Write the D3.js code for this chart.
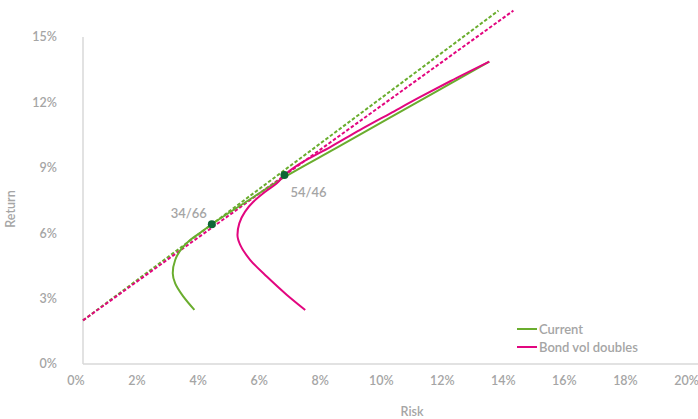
<!DOCTYPE html>
<html>
<head>
<meta charset="utf-8">
<script src="https://cdn.jsdelivr.net/npm/d3@7"></script>
<style>
  html, body { margin: 0; padding: 0; background: #fff; }
  svg { display: block; font-family: Lato, "Open Sans", sans-serif; }
</style>
</head>
<body>
<svg id="chart" width="698" height="419"></svg>
<script>
// ---- data (risk %, return %) ----
const currentRisk   = [3.65, 3.29, 3.02, 2.94, 3.02, 3.24, 3.51, 3.84, 4.22, 5.41, 6.62, 8.26, 10.07, 11.54, 13.31];
const currentReturn = [2.48, 3.09, 3.70, 4.16, 4.77, 5.31, 5.69, 6.02, 6.41, 7.50, 8.59, 9.88, 11.31, 12.47, 13.87];
const bondRisk      = [7.28, 6.68, 6.02, 5.48, 5.15, 5.06, 5.12, 5.31, 5.58, 5.97, 6.35, 6.60, 7.11, 8.10, 9.08, 10.07, 11.05, 12.03, 13.31];
const bondReturn    = [2.48, 3.17, 4.01, 4.77, 5.46, 5.92, 6.45, 6.99, 7.44, 7.90, 8.29, 8.67, 9.19, 9.95, 10.74, 11.50, 12.25, 12.97, 13.87];
const cmlCurrentRisk   = [0, 13.61];
const cmlCurrentReturn = [2.0, 16.21];
const cmlBondRisk      = [0, 14.10];
const cmlBondReturn    = [2.0, 16.21];
const pointLabels = ["34/66", "54/46"];
const pointRisk   = [4.22, 6.60];
const pointReturn = [6.41, 8.67];
const xTicks = [0, 2, 4, 6, 8, 10, 12, 14, 16, 18, 20];
const yTicks = [0, 3, 6, 9, 12, 15];
const seriesNames = ["Current", "Bond vol doubles"];

// ---- styles ----
const GREEN = "#6aad2e", MAGENTA = "#e2067f", DOT = "#0e6636";
const TEXT = "#a5a5a5", AXIS = "#d9d9d9";

const svg = d3.select("#chart");
const x = d3.scaleLinear().domain([0, 20]).range([83, 693.5]);
const y = d3.scaleLinear().domain([0, 15]).range([364, 37]);

// axes lines
svg.append("line").attr("x1", x(0)).attr("x2", 698).attr("y1", y(0)).attr("y2", y(0))
  .attr("stroke", AXIS).attr("stroke-width", 1.5);
svg.append("line").attr("x1", x(0)).attr("x2", x(0)).attr("y1", y(15)).attr("y2", y(0))
  .attr("stroke", AXIS).attr("stroke-width", 1.5);

// tick labels
svg.append("g").selectAll("text").data(xTicks).join("text")
  .attr("x", d => x(d) - 7).attr("y", 385)
  .attr("text-anchor", "middle").attr("fill", TEXT)
  .attr("font-size", 12.5).attr("font-weight", 600)
  .text(d => d + "%");
svg.append("g").selectAll("text").data(yTicks).join("text")
  .attr("x", 57).attr("y", d => y(d) + 4.4)
  .attr("text-anchor", "end").attr("fill", TEXT)
  .attr("font-size", 12.5).attr("font-weight", 600)
  .text(d => d + "%");

// axis titles
svg.append("text").attr("x", 412).attr("y", 416).attr("text-anchor", "middle")
  .attr("fill", TEXT).attr("font-size", 12.5).attr("font-weight", 600).text("Risk");
svg.append("text").attr("transform", "translate(15,209) rotate(-90)").attr("text-anchor", "middle")
  .attr("fill", TEXT).attr("font-size", 12.5).attr("font-weight", 600).text("Return");

const line = d3.line().x(d => x(d[0])).y(d => y(d[1])).curve(d3.curveMonotoneY);
const straight = d3.line().x(d => x(d[0])).y(d => y(d[1]));

// dashed capital market lines
svg.append("path").datum(d3.zip(cmlCurrentRisk, cmlCurrentReturn)).attr("d", straight)
  .attr("fill", "none").attr("stroke", GREEN).attr("stroke-width", 2).attr("stroke-dasharray", "3.5,2");
svg.append("path").datum(d3.zip(cmlBondRisk, cmlBondReturn)).attr("d", straight)
  .attr("fill", "none").attr("stroke", MAGENTA).attr("stroke-width", 2).attr("stroke-dasharray", "3.5,2");

// frontiers
svg.append("path").datum(d3.zip(currentRisk, currentReturn)).attr("d", line)
  .attr("fill", "none").attr("stroke", GREEN).attr("stroke-width", 2);
svg.append("path").datum(d3.zip(bondRisk, bondReturn)).attr("d", line)
  .attr("fill", "none").attr("stroke", MAGENTA).attr("stroke-width", 2);

// points
const pts = d3.zip(pointRisk, pointReturn, pointLabels);
svg.append("g").selectAll("circle").data(pts).join("circle")
  .attr("cx", d => x(d[0])).attr("cy", d => y(d[1])).attr("r", 4).attr("fill", DOT);
const labelOff = [[-23, -6], [24, 22]];
svg.append("g").selectAll("text").data(pts).join("text")
  .attr("x", (d, i) => x(d[0]) + labelOff[i][0]).attr("y", (d, i) => y(d[1]) + labelOff[i][1])
  .attr("text-anchor", "middle").attr("fill", TEXT)
  .attr("font-size", 13).attr("font-weight", 600).text(d => d[2]);

// legend
const legColors = [GREEN, MAGENTA];
const leg = svg.append("g").selectAll("g").data(seriesNames).join("g")
  .attr("transform", (d, i) => `translate(517,${329 + i * 18})`);
leg.append("line").attr("x1", 0).attr("x2", 20).attr("y1", 0).attr("y2", 0)
  .attr("stroke", (d, i) => legColors[i]).attr("stroke-width", 2);
leg.append("text").attr("x", 22).attr("y", 4.5).attr("fill", TEXT)
  .attr("font-size", 13).attr("font-weight", 600).text(d => d);
</script>
</body>
</html>
